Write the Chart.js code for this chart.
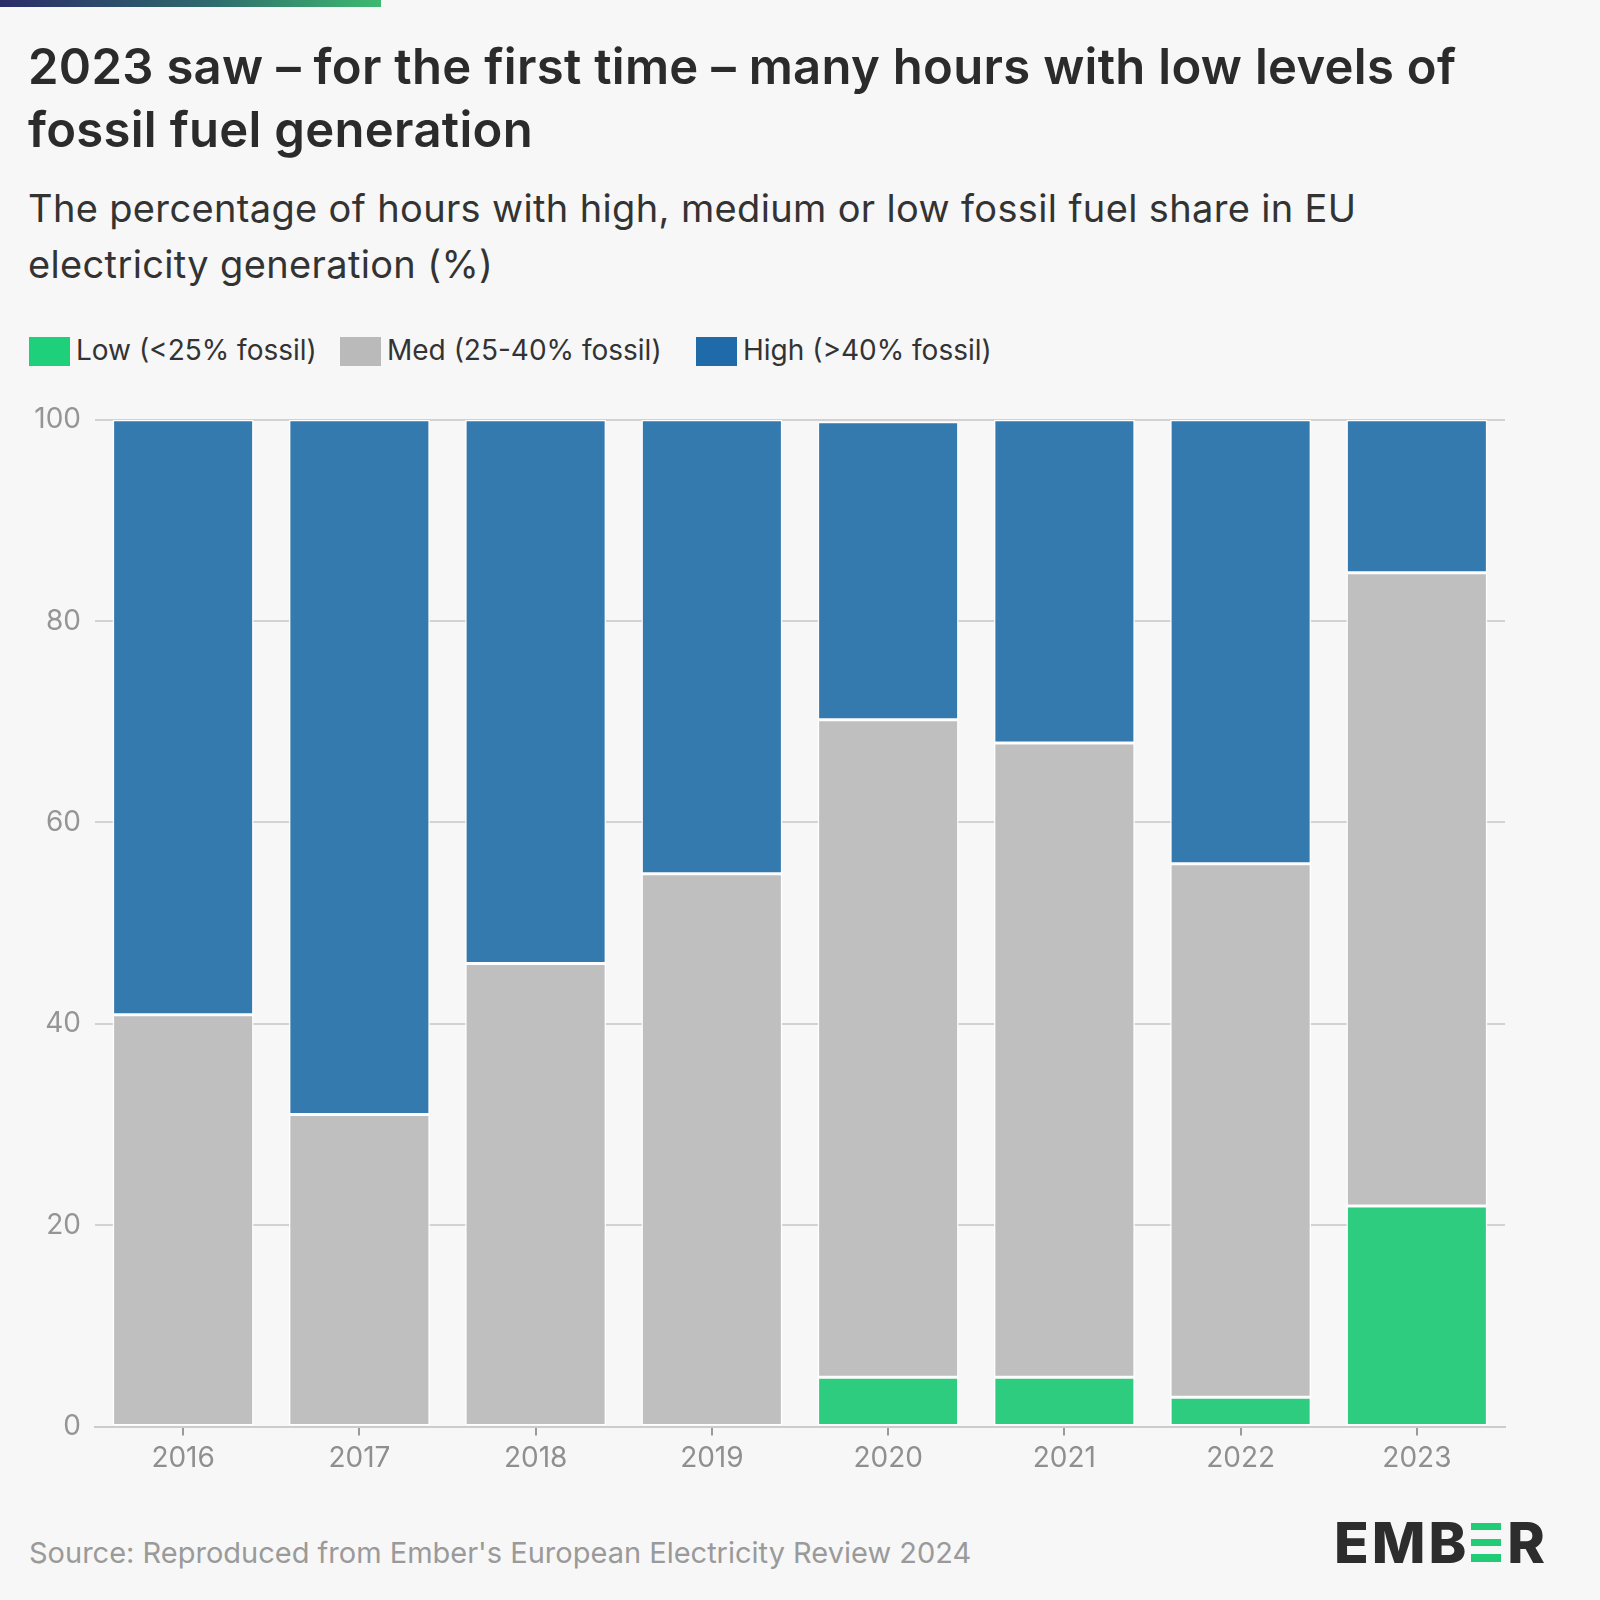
<!DOCTYPE html>
<html>
<head>
<meta charset="utf-8">
<script src="https://cdn.jsdelivr.net/npm/chart.js@4.4.1/dist/chart.umd.min.js"></script>
<style>
  html, body { margin:0; padding:0; }
  body { width:1600px; height:1600px; background:#f7f7f7; position:relative; overflow:hidden; font-family: Inter, "Noto Sans", sans-serif; }
  #topbar { position:absolute; left:0; top:0; width:381px; height:7px; background:linear-gradient(90deg,#2a2c68,#2f6a6e 55%,#3dba70); }
  #title { position:absolute; left:28px; top:35px; width:1560px; font-size:49px; font-weight:600; line-height:63px; color:#2b2b2b; letter-spacing:0.3px; white-space:nowrap; }
  #subtitle { position:absolute; left:28px; top:180px; width:1560px; font-size:38px; font-weight:400; line-height:56px; color:#333; letter-spacing:0.35px; white-space:nowrap; }
  .li { position:absolute; height:36px; line-height:36px; font-size:28px; color:#333; white-space:nowrap; }
  .sw { position:absolute; top:337px; width:41px; height:29px; }
  #chartwrap { position:absolute; left:0; top:389px; width:1600px; height:1111px; }
  #source { position:absolute; left:29px; top:1535px; font-size:29px; color:#9a9a9a; white-space:nowrap; letter-spacing:0px; }
  #logo { position:absolute; left:1334px; top:1508px; font-size:57px; font-weight:800; color:#2d2d2d; letter-spacing:3px; line-height:70px; font-family: Inter, sans-serif; white-space:nowrap; }
  #logo .g { color:transparent; position:relative; display:inline-block; }
  #logo .g::before { content:''; position:absolute; left:2px; top:15px; width:30px; height:39px;
    background: linear-gradient(to bottom, #22cc77 0, #22cc77 7.5px, transparent 7.5px, transparent 15.75px, #22cc77 15.75px, #22cc77 23.25px, transparent 23.25px, transparent 31.5px, #22cc77 31.5px, #22cc77 39px); }
</style>
</head>
<body>
<div id="topbar"></div>
<div id="title">2023 saw – for the first time – many hours with low levels of<br>fossil fuel generation</div>
<div id="subtitle">The percentage of hours with high, medium or low fossil fuel share in EU<br>electricity generation (%)</div>
<div class="sw" style="left:29px;background:#1ed07a"></div>
<div class="li" style="left:76px;top:332px">Low (&lt;25% fossil)</div>
<div class="sw" style="left:340px;background:#bababa"></div>
<div class="li" style="left:387px;top:332px">Med (25-40% fossil)</div>
<div class="sw" style="left:696px;background:#1f6aa8"></div>
<div class="li" style="left:743px;top:332px">High (&gt;40% fossil)</div>
<div id="chartwrap"><canvas id="c"></canvas></div>
<div id="source">Source: Reproduced from Ember's European Electricity Review 2024</div>
<div id="logo">EMB<span class="g">E</span>R</div>
<script>
const years = ['2016','2017','2018','2019','2020','2021','2022','2023'];
const lowShare  = [0, 0, 0, 0, 4.9, 4.9, 2.9, 21.9];
const medShare  = [40.9, 31.0, 46.0, 54.9, 65.3, 63.0, 53.0, 62.9];
const highShare = [59.1, 69.0, 54.0, 45.1, 29.6, 32.1, 44.1, 15.2];
const yTicks = [0, 20, 40, 60, 80, 100];

const tickFont = { family: 'Inter, "Noto Sans", sans-serif', size: 28 };

new Chart(document.getElementById('c'), {
  type: 'bar',
  data: {
    labels: years,
    datasets: [
      { label: 'Low (<25% fossil)', data: lowShare, backgroundColor: '#2ecc7f', borderColor: '#ffffff', borderWidth: 1.5, borderSkipped: false },
      { label: 'Med (25-40% fossil)', data: medShare, backgroundColor: '#bfbfbf', borderColor: '#ffffff', borderWidth: 1.5, borderSkipped: false },
      { label: 'High (>40% fossil)', data: highShare, backgroundColor: '#357aaf', borderColor: '#ffffff', borderWidth: 1.5, borderSkipped: false }
    ]
  },
  options: {
    responsive: true,
    maintainAspectRatio: false,
    animation: false,
    devicePixelRatio: 1,
    layout: { padding: { top: 0, right: 95, left: 0, bottom: 0 } },
    plugins: { legend: { display: false }, tooltip: { enabled: false } },
    datasets: { bar: { barPercentage: 0.8, categoryPercentage: 1.0 } },
    scales: {
      x: {
        stacked: true,
        grid: { offset: false, drawOnChartArea: false, drawTicks: true, tickLength: 9, color: '#9a9a9a', lineWidth: 2 },
        border: { display: true, color: '#cccccc', width: 2 },
        ticks: { color: '#8f8f8f', font: tickFont, padding: 6, maxRotation: 0 },
        afterFit: (s) => { s.height = 73.5; }
      },
      y: {
        stacked: true,
        min: 0, max: 100,
        afterBuildTicks: (s) => { s.ticks = yTicks.map(v => ({ value: v })); },
        grid: { color: '#d2d2d2', lineWidth: 2, drawTicks: false },
        border: { display: false },
        ticks: { color: '#959595', font: tickFont, padding: 14 },
        afterFit: (s) => { s.width = 95; }
      }
    }
  }
});
</script>
</body>
</html>
